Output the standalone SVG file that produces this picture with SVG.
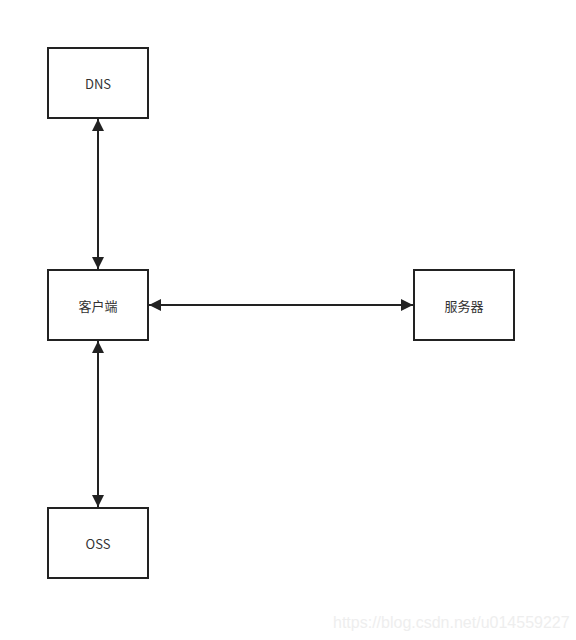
<svg xmlns="http://www.w3.org/2000/svg" width="576" height="640" viewBox="0 0 576 640">
<style>
.box{fill:#ffffff;stroke:#222222;stroke-width:2}
.lbl{font-family:"Noto Sans CJK SC","Open Sans",sans-serif;font-size:13px;fill:#333333;text-anchor:middle;dominant-baseline:central}
.edge{stroke:#222222;stroke-width:2;fill:none;marker-start:url(#ah);marker-end:url(#ah)}
.wm{font-family:"Liberation Sans",Arial,sans-serif;font-size:16px;fill:#eeeeee}
</style>
<defs>
<marker id="ah" viewBox="0 0 10 10" refX="10" refY="5" markerWidth="6" markerHeight="6" orient="auto-start-reverse">
<path d="M0,0 L10,5 L0,10 Z" fill="#222222"/>
</marker>
</defs>
<rect width="576" height="640" fill="#ffffff"/>
<g id="connectors">
<line class="edge" x1="98" y1="119" x2="98" y2="269"/>
<line class="edge" x1="98" y1="341" x2="98" y2="507"/>
<line class="edge" x1="149" y1="305" x2="413" y2="305"/>
</g>
<g id="dns"><rect class="box" x="48" y="48" width="100" height="70"/><text class="lbl" x="98" y="83">DNS</text></g>
<g id="client"><rect class="box" x="48" y="270" width="100" height="70"/><text class="lbl" x="98" y="305">客户端</text></g>
<g id="server"><rect class="box" x="414" y="270" width="100" height="70"/><text class="lbl" x="464" y="305">服务器</text></g>
<g id="oss"><rect class="box" x="48" y="508" width="100" height="70"/><text class="lbl" x="98" y="543">OSS</text></g>
<text class="wm" x="333" y="628">https://blog.csdn.net/u014559227</text>
</svg>
